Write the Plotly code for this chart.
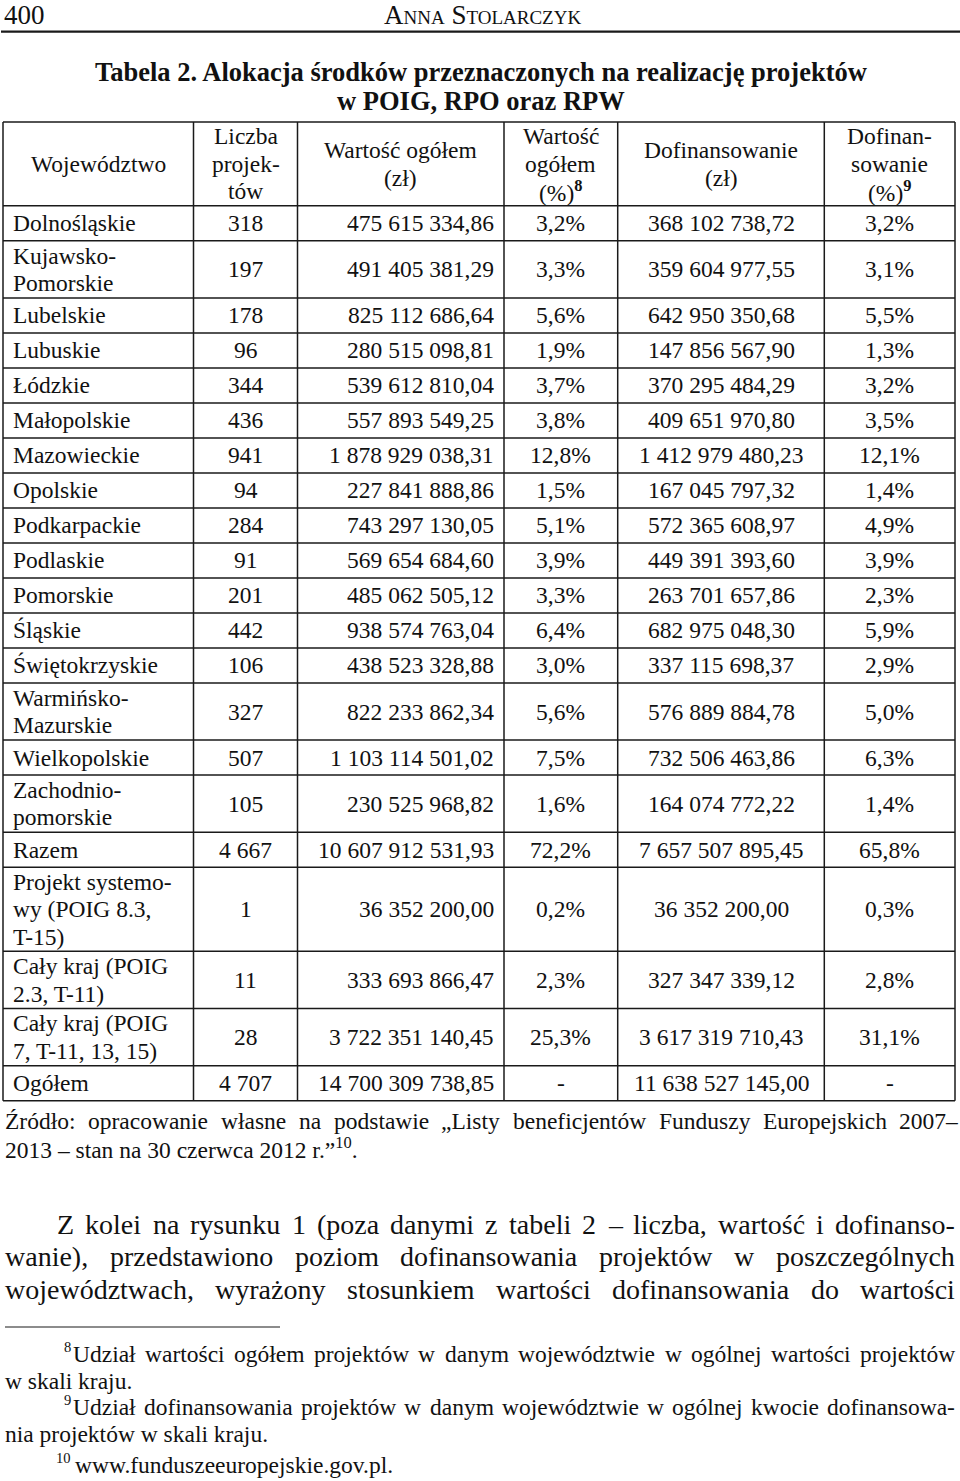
import plotly.graph_objects as go

# dane tabeli
wojewodztwa = ["Dolnośląskie", "Kujawsko-\nPomorskie", "Lubelskie", "Lubuskie", "Łódzkie",
               "Małopolskie", "Mazowieckie", "Opolskie", "Podkarpackie", "Podlaskie",
               "Pomorskie", "Śląskie", "Świętokrzyskie", "Warmińsko-\nMazurskie",
               "Wielkopolskie", "Zachodnio-\npomorskie", "Razem",
               "Projekt systemo-\nwy (POIG 8.3,\nT-15)", "Cały kraj (POIG\n2.3, T-11)",
               "Cały kraj (POIG\n7, T-11, 13, 15)", "Ogółem"]
liczba = [318, 197, 178, 96, 344, 436, 941, 94, 284, 91, 201, 442, 106, 327, 507, 105,
          4667, 1, 11, 28, 4707]
wartosc = [475615334.86, 491405381.29, 825112686.64, 280515098.81, 539612810.04,
           557893549.25, 1878929038.31, 227841888.86, 743297130.05, 569654684.60,
           485062505.12, 938574763.04, 438523328.88, 822233862.34, 1103114501.02,
           230525968.82, 10607912531.93, 36352200.00, 333693866.47, 3722351140.45,
           14700309738.85]
wartosc_pct = [3.2, 3.3, 5.6, 1.9, 3.7, 3.8, 12.8, 1.5, 5.1, 3.9, 3.3, 6.4, 3.0, 5.6, 7.5,
               1.6, 72.2, 0.2, 2.3, 25.3, None]
dofinansowanie = [368102738.72, 359604977.55, 642950350.68, 147856567.90, 370295484.29,
                  409651970.80, 1412979480.23, 167045797.32, 572365608.97, 449391393.60,
                  263701657.86, 682975048.30, 337115698.37, 576889884.78, 732506463.86,
                  164074772.22, 7657507895.45, 36352200.00, 327347339.12, 3617319710.43,
                  11638527145.00]
dofinansowanie_pct = [3.2, 3.1, 5.5, 1.3, 3.2, 3.5, 12.1, 1.4, 4.9, 3.9, 2.3, 5.9, 2.9, 5.0,
                      6.3, 1.4, 65.8, 0.3, 2.8, 31.1, None]
naglowki = ["Województwo", "Liczba\nprojek-\ntów", "Wartość ogółem\n(zł)",
            "Wartość\nogółem\n(%)<sup><b>8</b></sup>", "Dofinansowanie\n(zł)",
            "Dofinan-\nsowanie\n(%)<sup><b>9</b></sup>"]

# tekst strony
numer_strony = "400"
autor = "Anna Stolarczyk"
tytul = ["Tabela 2. Alokacja środków przeznaczonych na realizację projektów",
         "w POIG, RPO oraz RPW"]
zrodlo = ["Źródło: opracowanie własne na podstawie „Listy beneficjentów Funduszy Europejskich 2007–",
          "2013 – stan na 30 czerwca 2012 r.”<sup>10</sup>."]
akapit = ["Z kolei na rysunku 1 (poza danymi z tabeli 2 – liczba, wartość i dofinanso-",
          "wanie), przedstawiono poziom dofinansowania projektów w poszczególnych",
          "województwach, wyrażony stosunkiem wartości dofinansowania do wartości"]
przypisy = [("8", "Udział wartości ogółem projektów w danym województwie w ogólnej wartości projektów",
             "w skali kraju."),
            ("9", "Udział dofinansowania projektów w danym województwie w ogólnej kwocie dofinansowa-",
             "nia projektów w skali kraju."),
            ("10", "www.funduszeeuropejskie.gov.pl.", None)]

SERIF = "Liberation Serif, Times New Roman, serif"
INK = "#111111"


def kwota(v):
    return f"{v:,.2f}".replace(",", " ").replace(".", ",")


def procent(v):
    return "-" if v is None else f"{v:.1f}%".replace(".", ",")


def calk(v):
    return f"{v:,}".replace(",", " ")


# szerokości znaków Times (1/1000 em) do justowania
W = {" ": 250, "(": 333, ")": 333, ",": 250, "-": 333, ".": 250, ":": 278, "–": 500,
     "„": 444, "”": 444, "%": 833}
for ch in "0123456789":
    W[ch] = 500
for ch, w in zip("ABCDEFGHIJKLMNOPQRSTUVWXYZ",
                 [722, 667, 667, 722, 611, 556, 722, 722, 333, 389, 722, 611, 889, 722, 722,
                  556, 722, 667, 556, 611, 722, 722, 944, 722, 722, 611]):
    W[ch] = w
for ch, w in zip("abcdefghijklmnopqrstuvwxyz",
                 [444, 500, 444, 500, 444, 333, 500, 500, 278, 278, 500, 278, 778, 500, 500,
                  500, 500, 333, 389, 278, 500, 500, 722, 500, 500, 444]):
    W[ch] = w
W.update({"ą": 444, "ć": 444, "ę": 444, "ł": 278, "ń": 500, "ó": 500, "ś": 389, "ź": 444,
          "ż": 444, "Ź": 611, "Ś": 556, "Ł": 611, "Ż": 611})


def szer(s, size):
    return sum(W.get(c, 500) for c in s) * size / 1000


annotations = []
shapes = []


def txt(x, y, s, size, anchor="left", yanchor="middle", **font):
    annotations.append(dict(x=x, y=y, xref="x", yref="y", text=s, showarrow=False,
                            xanchor=anchor, yanchor=yanchor, borderpad=0, borderwidth=0,
                            font=dict(family=SERIF, size=size, color=INK, **font)))


def justuj(line, x0, x1, y, size):
    words = line.split(" ")
    ws = [szer(w, size) for w in words]
    gap = max((x1 - x0 - sum(ws)) / (len(words) - 1), 0.15 * size)
    x = x0
    for w, wd in zip(words, ws):
        txt(x, y, w, size)
        x += wd + gap


def linia(x0, y0, x1, y1, w=1.5):
    shapes.append(dict(type="line", xref="x", yref="y", x0=x0, y0=y0, x1=x1, y1=y1,
                       line=dict(color="#1a1a1a", width=w)))


# nagłówek strony
txt(4, 0, numer_strony, 27, yanchor="top")
txt(482, 0, autor, 27, "center", yanchor="top", variant="small-caps")
linia(1, 31.7, 960, 31.7, 2.2)

# tytuł
txt(481, 72, "<b>" + tytul[0] + "</b>", 26.5, "center")
txt(481, 101, "<b>" + tytul[1] + "</b>", 26.5, "center")

# tabela
COL_X = [3, 193.5, 297.5, 504, 617.7, 824.3, 955]
ALIGN = ["left", "center", "right", "center", "center", "center"]
ROW_H = {1: 35.0, 2: 57.2, 3: 84.0}
LINE_GAP = 27.5
FS = 23.5
PAD = 10

wiersze = [naglowki]
for i in range(len(wojewodztwa)):
    wiersze.append([wojewodztwa[i], calk(liczba[i]), kwota(wartosc[i]), procent(wartosc_pct[i]),
                    kwota(dofinansowanie[i]), procent(dofinansowanie_pct[i])])

y = 122.0
granice = [y]
for r, row in enumerate(wiersze):
    n = max(len(c.split("\n")) for c in row)
    h = 83.7 if r == 0 else ROW_H[n]
    mid = y + h / 2
    for c, cell in enumerate(row):
        lines = cell.split("\n")
        k = len(lines)
        al = "center" if r == 0 else ALIGN[c]
        if al == "left":
            xx = COL_X[c] + PAD
        elif al == "right":
            xx = COL_X[c + 1] - PAD
        else:
            xx = (COL_X[c] + COL_X[c + 1]) / 2
        for j, ln in enumerate(lines):
            txt(xx, mid + (j - (k - 1) / 2) * LINE_GAP, ln, FS, al)
    y += h
    granice.append(y)

for g in granice:
    linia(COL_X[0], g, COL_X[-1], g)
for cx in COL_X:
    linia(cx, granice[0], cx, granice[-1])

# źródło
justuj(zrodlo[0], 5, 958, 1121, FS)
txt(5, 1148, zrodlo[1], FS)

# akapit
justuj(akapit[0], 57, 955, 1224, 28)
justuj(akapit[1], 5, 955, 1256.5, 28)
justuj(akapit[2], 5, 955, 1289, 28)

# przypisy
linia(5, 1327, 280, 1327, 1.2)
py = [1354, 1407, 1465]
for (nr, l1, l2), yy in zip(przypisy, py):
    txt(71, yy - 7, nr, FS * 0.62, "right")
    if l2 is None:
        txt(75, yy, l1, FS)
    else:
        justuj(l1, 73, 955, yy, FS)
        txt(5, yy + 27, l2, FS)

fig = go.Figure()
fig.update_layout(
    width=960, height=1481,
    margin=dict(l=0, r=0, t=0, b=0),
    paper_bgcolor="white", plot_bgcolor="white",
    xaxis=dict(range=[0, 960], visible=False, fixedrange=True),
    yaxis=dict(range=[1481, 0], visible=False, fixedrange=True),
    showlegend=False,
    annotations=annotations,
    shapes=shapes,
)
# bez domyślnego marginesu strony (8 px), żeby wykres pokrył całe okno
fig.write_html("out.html", config={"displayModeBar": False},
               post_script="document.body.style.margin = '0';")
